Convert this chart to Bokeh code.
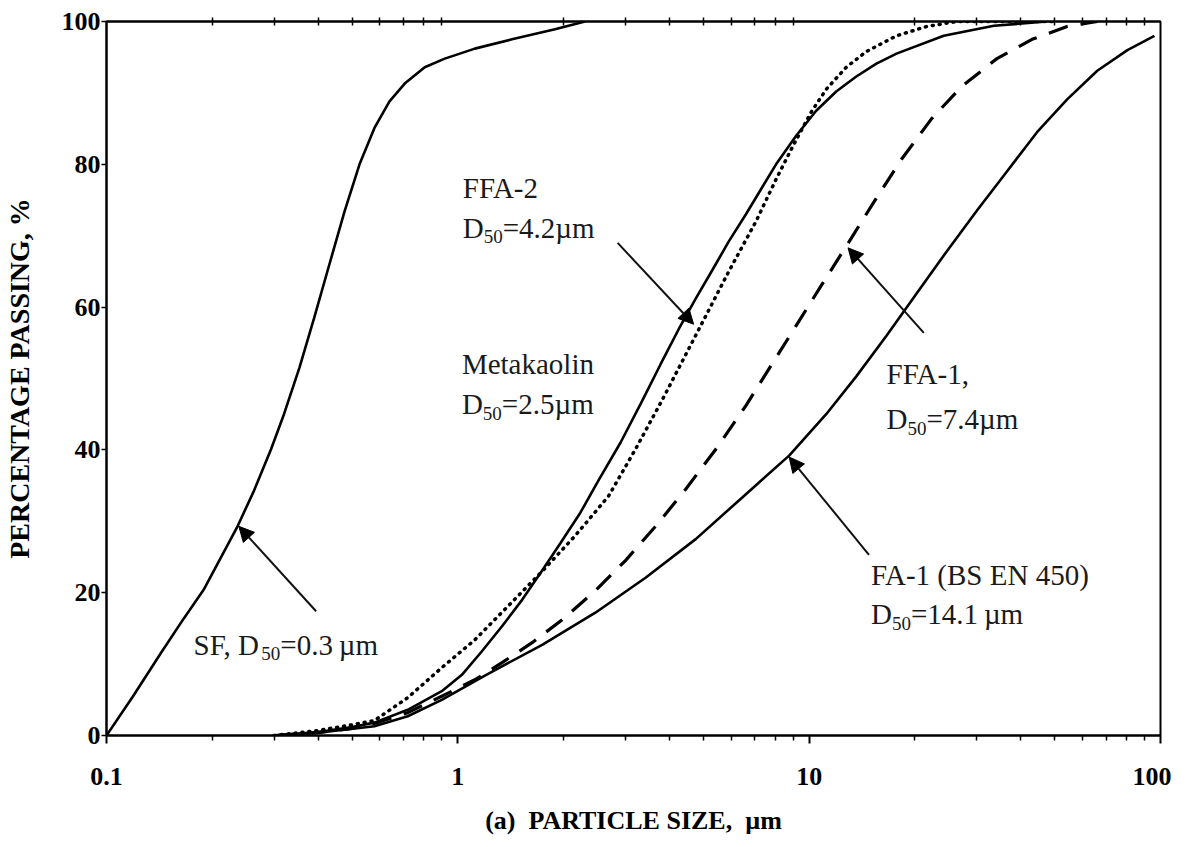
import numpy as np
from bokeh.plotting import figure
from bokeh.models import FixedTicker, LogAxis, Arrow, NormalHead, ColumnDataSource, Range1d
from bokeh.core.properties import value
from bokeh.embed import file_html
from bokeh.resources import INLINE

# ---------------- data ----------------
sf_x = [0.1, 0.119, 0.143, 0.166, 0.189, 0.235, 0.263, 0.294, 0.32, 0.354, 0.39, 0.431,
        0.476, 0.525, 0.579, 0.639, 0.706, 0.805, 0.918, 1.118, 1.426, 1.89, 2.3]
sf_y = [0, 5.5, 11.6, 16.4, 20.4, 29.1, 34.3, 40.1, 45.0, 51.5, 58.5, 66.0,
        73.4, 80.0, 85.1, 88.8, 91.3, 93.6, 94.8, 96.2, 97.5, 98.9, 100]

mk_x = [0.3, 0.4, 0.5, 0.579, 0.72, 0.9, 1.027, 1.171, 1.336, 1.524, 1.715, 1.956, 2.232,
        2.512, 2.903, 3.311, 3.777, 4.252, 4.754, 5.318, 5.906, 6.607, 7.293, 8.049,
        9.182, 10.47, 11.94, 13.62, 15.54, 17.73, 24.15, 33.56, 47.5]
mk_y = [0, 0.5, 1.2, 1.8, 3.6, 6.2, 8.5, 11.8, 15.3, 19.0, 22.7, 26.9, 31.2,
        35.7, 41.0, 46.4, 52.0, 56.9, 61.2, 65.3, 69.2, 73.0, 76.5, 80.0,
        84.0, 87.5, 90.2, 92.3, 94.1, 95.5, 98.0, 99.4, 100]

ffa2_x = [0.3, 0.4, 0.5, 0.579, 0.72, 0.9, 1.118, 1.389, 1.738, 2.16, 2.683, 3.204, 3.827,
          4.692, 5.906, 7.056, 8.049, 9.0, 10.13, 11.18, 12.76, 14.55, 17.73, 21.6, 26.3, 50]
ffa2_y = [0, 0.7, 1.5, 2.1, 5.3, 9.5, 13.4, 18.1, 23.0, 28.0, 33.5, 40.1, 47.1,
          55.5, 65.0, 72.0, 77.9, 82.6, 87.3, 90.5, 93.6, 95.8, 98.0, 99.3, 100, 100]

ffa1_x = [0.3, 0.4, 0.5, 0.579, 0.72, 0.9, 1.118, 1.336, 1.627, 1.982, 2.463, 3.0, 3.655,
          4.452, 5.424, 6.607, 7.788, 9.182, 10.82, 12.93, 15.23, 18.32, 22.32, 27.19,
          34.22, 43.09, 54.24, 66.1]
ffa1_y = [0, 0.4, 1.0, 1.7, 3.2, 5.5, 7.8, 10.2, 13.0, 16.2, 20.3, 24.5, 29.3,
          34.5, 40.1, 46.2, 51.8, 57.4, 63.0, 69.0, 74.6, 80.7, 86.4, 90.9,
          94.8, 97.5, 99.3, 100]

fa1_x = [0.3, 0.4, 0.579, 0.72, 0.9, 1.194, 1.738, 2.463, 3.422, 4.754, 6.607, 8.77, 11.18,
         13.62, 16.6, 20.22, 24.63, 30.0, 36.55, 44.52, 54.24, 66.07, 80.5, 96.1]
fa1_y = [0, 0.4, 1.3, 2.7, 5.0, 8.4, 12.7, 17.2, 22.1, 27.5, 33.8, 39.2, 45.0,
         50.3, 56.0, 61.9, 67.8, 73.5, 79.0, 84.5, 89.1, 93.1, 96.0, 98.0]

x_ticks = [0.1, 1, 10, 100]
x_tick_labels = ["0.1", "1", "10", "100"]
y_ticks = [0, 20, 40, 60, 80, 100]

# annotation texts
label_names = ["SF, D", "FFA-2", "D", "Metakaolin", "D", "FFA-1,", "D", "FA-1 (BS EN 450)", "D"]
label_rest = ["=0.3\u2009\u00b5m", "=4.2\u00b5m", "=2.5\u00b5m", "=7.4\u00b5m", "=14.1\u2009\u00b5m"]
x_title = "(a)\u00a0\u00a0PARTICLE SIZE,\u00a0\u00a0\u00b5m"
y_title = "PERCENTAGE PASSING, %"

# ---------------- figure ----------------
p = figure(width=1171, height=846, x_axis_type="log",
           x_range=Range1d(0.1, 100), y_range=Range1d(0, 100),
           output_backend="svg", toolbar_location=None,
           min_border_left=106, min_border_right=11,
           min_border_top=21, min_border_bottom=111)
p.grid.visible = False
p.outline_line_color = "black"
p.outline_line_width = 2
p.background_fill_color = "white"
p.border_fill_color = "white"

serif = "Liberation Serif"
minor = [m * d for d in (0.1, 1, 10) for m in range(2, 10)]

xa = p.xaxis[0]
xa.ticker = FixedTicker(ticks=x_ticks, minor_ticks=minor)
xa.major_label_overrides = {t: l for t, l in zip(x_ticks, x_tick_labels)}
xa.major_label_text_font = serif
xa.major_label_text_font_style = "bold"
xa.major_label_text_font_size = "26px"
xa.major_label_text_color = "black"
xa.major_label_standoff = 24
xa.major_tick_out = 8
xa.major_tick_in = 0
xa.minor_tick_out = 5
xa.minor_tick_in = 0
xa.axis_line_width = 2
xa.major_tick_line_width = 2
xa.minor_tick_line_width = 1.5
xa.axis_label = x_title
xa.axis_label_text_font = serif
xa.axis_label_text_font_style = "bold"
xa.axis_label_text_font_size = "26px"
xa.axis_label_text_color = "black"
xa.axis_label_standoff = 18

ya = p.yaxis[0]
ya.ticker = FixedTicker(ticks=y_ticks)
ya.major_label_text_font = serif
ya.major_label_text_font_style = "bold"
ya.major_label_text_font_size = "26px"
ya.major_label_text_color = "black"
ya.major_label_standoff = 1
ya.major_tick_out = 5
ya.major_tick_in = 0
ya.minor_tick_out = 0
ya.minor_tick_in = 0
ya.axis_line_width = 2
ya.major_tick_line_width = 1.5
ya.axis_label = y_title
ya.axis_label_text_font = serif
ya.axis_label_text_font_style = "bold"
ya.axis_label_text_font_size = "28px"
ya.axis_label_text_color = "black"
ya.axis_label_standoff = 24

top = LogAxis(ticker=FixedTicker(ticks=[], minor_ticks=minor),
              major_label_text_font_size="0px", axis_line_width=2,
              minor_tick_in=4, minor_tick_out=4, minor_tick_line_width=1.5,
              major_tick_in=0, major_tick_out=0)
p.add_layout(top, "above")

# ---------------- curves ----------------
p.line(sf_x, sf_y, line_color="black", line_width=2.6)
p.line(mk_x, mk_y, line_color="black", line_width=2.6)
p.line(ffa2_x, ffa2_y, line_color="black", line_width=3.5, line_dash="1 6", line_cap="round")
p.line(ffa1_x, ffa1_y, line_color="black", line_width=3.2, line_dash="20 13")
p.line(fa1_x, fa1_y, line_color="black", line_width=2.6)

# ---------------- arrows ----------------
arrows = [  # (x_start, y_start, x_end, y_end)
    (0.395, 17.4, 0.238, 29.3),
    (2.85, 69.0, 4.69, 57.6),
    (21.2, 56.4, 12.9, 68.3),
    (14.8, 25.3, 8.77, 39.0),
]
for xs, ys, xe, ye in arrows:
    p.add_layout(Arrow(end=NormalHead(size=15, fill_color="black", line_color="black"),
                       x_start=xs, y_start=ys, x_end=xe, y_end=ye,
                       line_color="#111111", line_width=2))

# ---------------- text labels ----------------
FS = 29
SUB = 19
w_D = 0.722 * FS
w_SFD = (0.556 + 0.556 + 0.25 + 0.25 + 0.722) * FS
w_50 = 1.0 * SUB

main_src = ColumnDataSource(dict(
    x=[0.177, 1.033, 1.033, 1.027, 1.027, 16.6, 16.6, 15.0, 15.0],
    y=[12.7, 76.7, 71.1, 52.0, 46.4, 50.6, 44.3, 22.5, 17.0],
    text=label_names,
))
p.text(x="x", y="y", text="text", source=main_src,
       text_font=value(serif), text_font_size=f"{FS}px",
       text_baseline="middle", text_align="left", text_color="#1a1a1a")

sub_src = ColumnDataSource(dict(
    x=[0.177, 1.033, 1.027, 16.6, 15.0],
    y=[12.7, 71.1, 46.4, 44.3, 17.0],
    text=["50"] * 5,
    xo=[w_SFD, w_D, w_D, w_D, w_D],
))
p.text(x="x", y="y", text="text", source=sub_src, x_offset="xo", y_offset=9,
       text_font=value(serif), text_font_size=f"{SUB}px",
       text_baseline="middle", text_align="left", text_color="#1a1a1a")

rest_src = ColumnDataSource(dict(
    x=[0.177, 1.033, 1.027, 16.6, 15.0],
    y=[12.7, 71.1, 46.4, 44.3, 17.0],
    text=label_rest,
    xo=[w_SFD + w_50, w_D + w_50, w_D + w_50, w_D + w_50, w_D + w_50],
))
p.text(x="x", y="y", text="text", source=rest_src, x_offset="xo",
       text_font=value(serif), text_font_size=f"{FS}px",
       text_baseline="middle", text_align="left", text_color="#1a1a1a")

open("out.html", "w").write(file_html(p, INLINE))
